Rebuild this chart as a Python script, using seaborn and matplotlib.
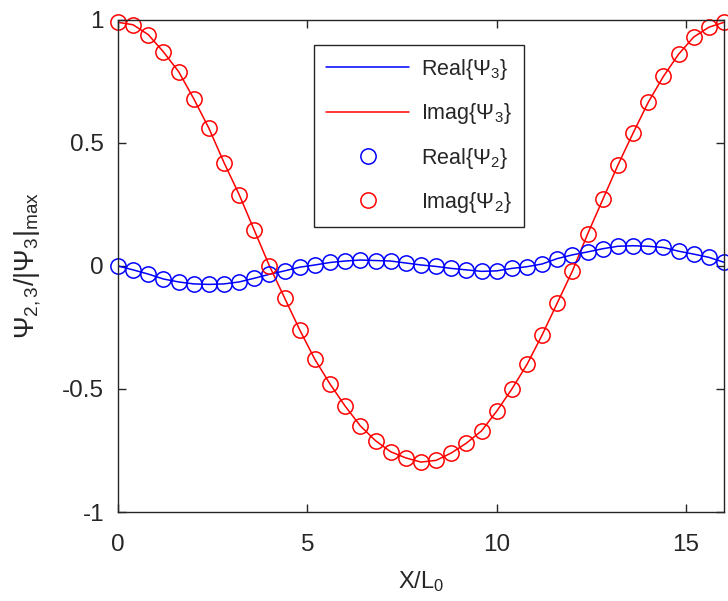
import numpy as np
import pandas as pd
import matplotlib
matplotlib.use("Agg")
import matplotlib.pyplot as plt
import seaborn as sns

# sample positions X/L0
x_pos = [0.0, 0.4, 0.8, 1.2, 1.6, 2.0, 2.4, 2.8, 3.2, 3.6,
         4.0, 4.4, 4.8, 5.2, 5.6, 6.0, 6.4, 6.8, 7.2, 7.6,
         8.0, 8.4, 8.8, 9.2, 9.6, 10.0, 10.4, 10.8, 11.2, 11.6,
         12.0, 12.4, 12.8, 13.2, 13.6, 14.0, 14.4, 14.8, 15.2, 15.6, 16.0]

# real part (blue)
real_vals = [0.0, -0.016, -0.033, -0.053, -0.065, -0.073, -0.075, -0.073, -0.065, -0.05,
             -0.034, -0.02, -0.005, 0.004, 0.014, 0.02, 0.024, 0.022, 0.02, 0.012,
             0.004, -0.002, -0.01, -0.016, -0.022, -0.02, -0.01, -0.003, 0.008, 0.03,
             0.045, 0.057, 0.07, 0.08, 0.082, 0.08, 0.075, 0.06, 0.048, 0.035, 0.015]

# imaginary part (red)
imag_vals = [0.99, 0.98, 0.94, 0.87, 0.79, 0.68, 0.56, 0.42, 0.29, 0.145,
             0.0, -0.13, -0.26, -0.38, -0.48, -0.57, -0.65, -0.71, -0.755, -0.78,
             -0.797, -0.79, -0.76, -0.72, -0.67, -0.59, -0.50, -0.40, -0.28, -0.15,
             -0.02, 0.13, 0.27, 0.41, 0.54, 0.665, 0.77, 0.86, 0.93, 0.97, 0.99]

x_ticks = [0, 5, 10, 15]
y_ticks = [-1, -0.5, 0, 0.5, 1]
y_ticklabels = ["-1", "-0.5", "0", "0.5", "1"]

df = pd.DataFrame({"x": x_pos, "re": real_vals, "im": imag_vals})

sns.set_theme(style="ticks")
plt.rcParams["font.family"] = ["Liberation Sans", "DejaVu Sans"]
plt.rcParams["mathtext.fontset"] = "custom"
plt.rcParams["mathtext.rm"] = "Liberation Sans"
plt.rcParams["mathtext.it"] = "Liberation Sans:italic"

fig = plt.figure(figsize=(7.28, 6.01), dpi=100)
ax = fig.add_axes([0.162, 0.148, 0.8325, 0.819])

sns.lineplot(data=df, x="x", y="re", color="blue", linewidth=1.1,
             label=r"Real{$\Psi_3$}", ax=ax)
sns.lineplot(data=df, x="x", y="im", color="red", linewidth=1.1,
             label=r"Imag{$\Psi_3$}", ax=ax)
sns.lineplot(data=df, x="x", y="re", linestyle="", marker="o", markersize=11,
             markerfacecolor="none", markeredgecolor="blue", markeredgewidth=1.1,
             label=r"Real{$\Psi_2$}", ax=ax, clip_on=False)
sns.lineplot(data=df, x="x", y="im", linestyle="", marker="o", markersize=11,
             markerfacecolor="none", markeredgecolor="red", markeredgewidth=1.1,
             label=r"Imag{$\Psi_2$}", ax=ax, clip_on=False)

ax.set_xlim(0, 16)
ax.set_ylim(-1, 1)
ax.set_xticks(x_ticks)
ax.set_yticks(y_ticks)
ax.set_yticklabels(y_ticklabels)
ax.tick_params(direction="in", length=6, width=1, labelsize=17.5, colors="#262626",
               top=True, right=True)
ax.tick_params(axis="x", pad=16)
ax.tick_params(axis="y", pad=10)
for sp in ax.spines.values():
    sp.set_visible(True)
    sp.set_color("#262626")
    sp.set_linewidth(1.0)

ax.set_xlabel(r"X/L$_0$", fontsize=17, color="#262626", labelpad=9)
ax.set_ylabel(r"$\Psi_{2,3}/|\Psi_3|_{\rm max}$", fontsize=19.5, color="#262626", labelpad=14)

leg = ax.legend(loc="upper left", bbox_to_anchor=(0.323, 0.949), borderaxespad=0,
                fontsize=15.5, fancybox=False, framealpha=1, edgecolor="#262626",
                handlelength=3.9, handletextpad=0.55, labelspacing=0.9, borderpad=0.55)
leg.get_frame().set_linewidth(1.0)

fig.savefig("out.png", dpi=100)
